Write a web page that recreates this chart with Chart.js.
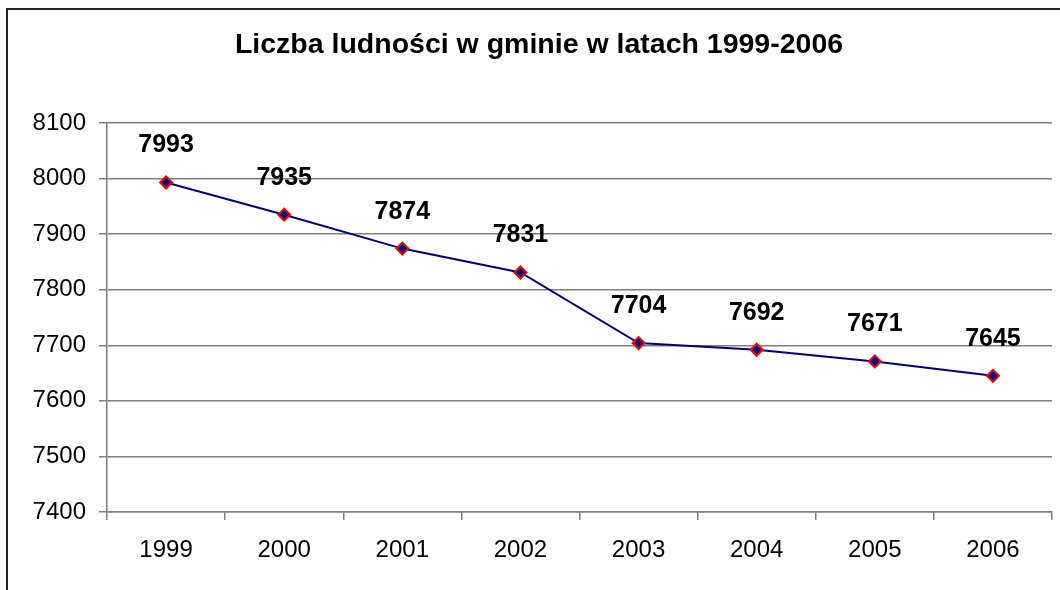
<!DOCTYPE html>
<html>
<head>
<meta charset="utf-8">
<script src="https://cdn.jsdelivr.net/npm/chart.js@4/dist/chart.umd.min.js"></script>
<style>
  html, body { margin: 0; padding: 0; background: #fff; }
  canvas { display: block; }
</style>
</head>
<body>
<canvas id="chart" width="1060" height="590"></canvas>
<script>
// Chart data
const years = ['1999', '2000', '2001', '2002', '2003', '2004', '2005', '2006'];
const population = [7993, 7935, 7874, 7831, 7704, 7692, 7671, 7645];
const yMin = 7400;
const yMax = 8100;
const yStep = 100;
const chartTitle = 'Liczba ludności w gminie w latach 1999-2006';

const FONT = '"Liberation Sans", Arial, sans-serif';
Chart.defaults.font.family = FONT;
Chart.defaults.color = '#000';

// Outer chart frame (only the left and top edges are visible in the crop)
const framePlugin = {
  id: 'frame',
  beforeDraw(chart) {
    const ctx = chart.ctx;
    ctx.save();
    ctx.fillStyle = '#fff';
    ctx.fillRect(0, 0, chart.width, chart.height);
    ctx.strokeStyle = '#222';
    ctx.lineWidth = 2;
    ctx.beginPath();
    ctx.moveTo(7, chart.height);
    ctx.lineTo(7, 9);
    ctx.lineTo(chart.width, 9);
    ctx.stroke();
    ctx.restore();
  }
};

// Value labels above each point
const valueLabels = {
  id: 'valueLabels',
  afterDatasetsDraw(chart) {
    const ctx = chart.ctx;
    const meta = chart.getDatasetMeta(0);
    ctx.save();
    ctx.font = 'bold 25px ' + FONT;
    ctx.fillStyle = '#000';
    ctx.textAlign = 'center';
    ctx.textBaseline = 'alphabetic';
    meta.data.forEach((pt, i) => {
      ctx.fillText(String(population[i]), pt.x, pt.y - 30);
    });
    ctx.restore();
  }
};

new Chart(document.getElementById('chart'), {
  type: 'line',
  data: {
    labels: years,
    datasets: [{
      data: population,
      borderColor: '#000080',
      borderWidth: 2,
      tension: 0,
      pointStyle: 'rectRot',
      pointRadius: 6,
      pointBorderWidth: 2,
      pointBackgroundColor: '#000080',
      pointBorderColor: '#ff0000'
    }]
  },
  options: {
    responsive: false,
    animation: false,
    layout: { padding: { left: 25, right: 7, top: 0, bottom: 0 } },
    plugins: {
      legend: { display: false },
      tooltip: { enabled: false },
      title: {
        display: true,
        text: chartTitle,
        font: { size: 28.5, weight: 'bold' },
        color: '#000',
        padding: { top: 28, bottom: 60.8 }
      }
    },
    scales: {
      x: {
        offset: true,
        grid: { offset: true, drawOnChartArea: false, drawTicks: true, tickLength: 8, color: '#7f7f7f', lineWidth: 1.5 },
        border: { color: '#7f7f7f', width: 1.5 },
        ticks: { font: { size: 24 }, padding: 16, maxRotation: 0 },
        afterFit(scale) { scale.height = 78; }
      },
      y: {
        min: yMin,
        max: yMax,
        ticks: { stepSize: yStep, font: { size: 24 }, padding: 13, callback: v => String(v) },
        grid: { color: '#7f7f7f', lineWidth: 1.5, tickLength: 8 },
        border: { color: '#7f7f7f', width: 1.5 },
        afterFit(scale) { scale.width = 82; }
      }
    }
  },
  plugins: [framePlugin, valueLabels]
});
</script>
</body>
</html>
